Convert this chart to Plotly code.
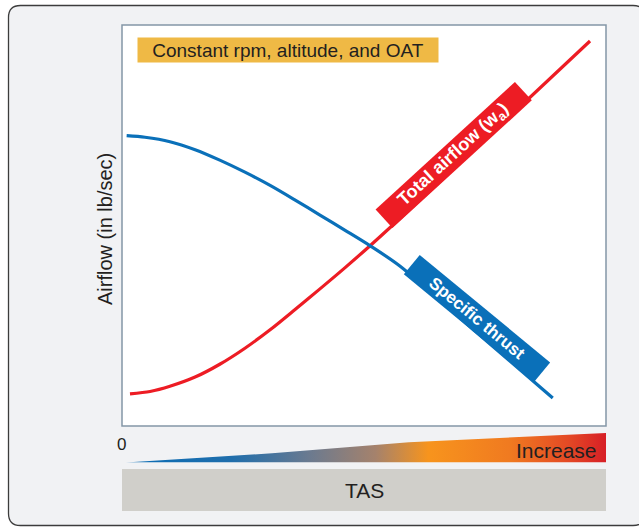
import plotly.graph_objects as go

# ---- data (x: TAS, 0-100 scale; y: airflow, 0-100 scale) ----
airflow_x = [1.65, 5.8, 9.9, 15.1, 20.2, 25.4, 30.6, 35.7, 40.9, 46.1, 51.2, 55.4, 74.0, 96.7]
airflow_y = [8.0, 8.6, 9.9, 12.2, 15.4, 19.4, 24.0, 29.0, 34.2, 39.5, 44.9, 49.5, 70.3, 96.0]

thrust_x = [0.96, 4.75, 9.9, 15.1, 20.2, 25.4, 30.6, 35.7, 40.9, 46.1, 51.2, 57.4, 73.1, 89.0]
thrust_y = [72.4, 72.0, 70.9, 68.9, 66.3, 63.3, 60.0, 56.4, 52.6, 48.8, 45.0, 39.9, 23.5, 7.0]

# TAS wedge profile (relative height of the gradient bar)
wedge_x = [0.8, 31.0, 59.3, 80.6, 100.0]
wedge_h = [0.0, 0.31, 0.69, 0.86, 1.0]

labels = {"title": "Constant rpm, altitude, and OAT",
          "ytitle": "Airflow (in lb/sec)",
          "airflow": "Total airflow (w<sub>a</sub>)",
          "thrust": "Specific thrust",
          "zero": "0", "inc": "Increase", "tas": "TAS"}

W, H = 639, 527
FONT = "Liberation Sans, Arial, Helvetica, sans-serif"
RED = "#ed1c24"
BLUE = "#0a70b9"
DARK = "#231f20"

def px(x):
    return x / W

def py(y):
    return 1 - y / H

fig = go.Figure()

fig.add_trace(go.Scatter(x=airflow_x, y=airflow_y, mode="lines",
                         line=dict(color=RED, width=3.2, shape="spline", smoothing=0.8),
                         hoverinfo="skip", showlegend=False))
fig.add_trace(go.Scatter(x=thrust_x, y=thrust_y, mode="lines",
                         line=dict(color=BLUE, width=3.2, shape="spline", smoothing=0.8),
                         hoverinfo="skip", showlegend=False))

# gradient wedge
wx = wedge_x + [wedge_x[-1], wedge_x[0]]
wy = wedge_h + [0, 0]
fig.add_trace(go.Scatter(
    x=wx, y=wy, xaxis="x2", yaxis="y2", mode="lines", fill="toself",
    line=dict(width=0, color="rgba(0,0,0,0)"),
    fillgradient=dict(type="horizontal", colorscale=[
        [0.0, "#0a6db5"], [0.22, "#1f6eac"], [0.38, "#6a7a90"],
        [0.52, "#a5826c"], [0.63, "#f7941d"], [0.8, "#f07a20"],
        [0.92, "#e44a25"], [1.0, "#d71f26"]]),
    hoverinfo="skip", showlegend=False))

x0p, x1p = 122, 606
ytop, ybot = 25, 426

# outer frame (rounded)
r = 12
fx0, fx1, fy0, fy1 = 8.5, 645, 5.5, 525.5
path = (f"M {px(fx0+r)} {py(fy0)} L {px(fx1-r)} {py(fy0)} "
        f"Q {px(fx1)} {py(fy0)} {px(fx1)} {py(fy0+r)} "
        f"L {px(fx1)} {py(fy1-r)} Q {px(fx1)} {py(fy1)} {px(fx1-r)} {py(fy1)} "
        f"L {px(fx0+r)} {py(fy1)} Q {px(fx0)} {py(fy1)} {px(fx0)} {py(fy1-r)} "
        f"L {px(fx0)} {py(fy0+r)} Q {px(fx0)} {py(fy0)} {px(fx0+r)} {py(fy0)} Z")
shapes = [
    dict(type="path", xref="paper", yref="paper", path=path,
         fillcolor="#f1f2f4", line=dict(color="#3c3c3c", width=1.3), layer="below"),
    dict(type="rect", xref="paper", yref="paper", x0=px(x0p), x1=px(x1p),
         y0=py(ybot), y1=py(ytop), fillcolor="white",
         line=dict(color="#8497a6", width=1.5), layer="below"),
    dict(type="rect", xref="paper", yref="paper", x0=px(122), x1=px(606),
         y0=py(511), y1=py(469), fillcolor="#d0cfca", line=dict(width=0), layer="below"),
]

ann = [
    dict(xref="paper", yref="paper", x=px(288), y=py(50), text=labels["title"],
         showarrow=False, bgcolor="#efb945", width=300, height=24, borderpad=0,
         font=dict(family=FONT, size=19, color=DARK), xanchor="center", yanchor="middle"),
    dict(xref="paper", yref="paper", x=px(105), y=py(229), text=labels["ytitle"],
         showarrow=False, textangle=-90, font=dict(family=FONT, size=20, color=DARK),
         xanchor="center", yanchor="middle"),
    dict(x=70.1, y=65.5, xshift=-7.5, yshift=8, text="<b>" + labels["airflow"] + "</b>",
         showarrow=False, textangle=-42.5, bgcolor=RED, width=188, height=24, borderpad=0,
         font=dict(family=FONT, size=18, color="white"), xanchor="center", yanchor="middle"),
    dict(x=71.8, y=24.8, xshift=7, yshift=8.4, text="<b>" + labels["thrust"] + "</b>",
         showarrow=False, textangle=39.5, bgcolor=BLUE, width=168, height=24, borderpad=0,
         font=dict(family=FONT, size=17, color="white"), xanchor="center", yanchor="middle"),
    dict(xref="paper", yref="paper", x=px(121), y=py(444), text=labels["zero"],
         showarrow=False, font=dict(family=FONT, size=17, color=DARK),
         xanchor="center", yanchor="middle"),
    dict(xref="paper", yref="paper", x=px(599), y=py(450), text=labels["inc"],
         showarrow=False, font=dict(family=FONT, size=21, color=DARK),
         xanchor="right", yanchor="middle"),
    dict(xref="paper", yref="paper", x=px(364), y=py(490), text=labels["tas"],
         showarrow=False, font=dict(family=FONT, size=21, color=DARK),
         xanchor="center", yanchor="middle"),
]

fig.update_layout(
    width=W, height=H, margin=dict(l=0, r=0, t=0, b=0),
    paper_bgcolor="white", plot_bgcolor="rgba(0,0,0,0)",
    xaxis=dict(domain=[px(x0p), px(x1p)], range=[0, 100], visible=False, fixedrange=True),
    yaxis=dict(domain=[py(ybot), py(ytop)], range=[0, 100], visible=False, fixedrange=True),
    xaxis2=dict(domain=[px(x0p), px(x1p)], range=[0, 100], visible=False, anchor="y2"),
    yaxis2=dict(domain=[py(462.5), py(433)], range=[0, 1], visible=False, anchor="x2"),
    shapes=shapes, annotations=ann, showlegend=False,
)

fig.write_html("out.html", config={"displayModeBar": False},
               post_script="document.body.style.margin='0';document.body.style.overflow='hidden';")
